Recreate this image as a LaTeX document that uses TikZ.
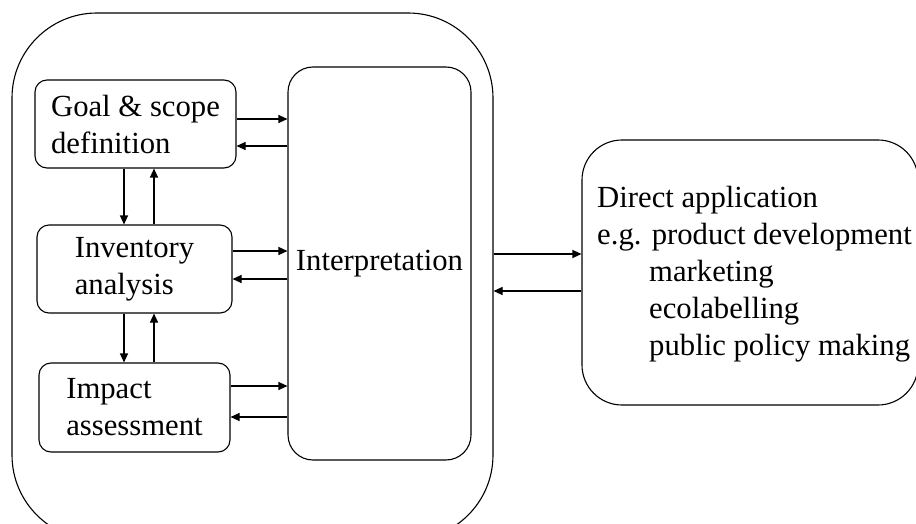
\documentclass[tikz,border=0pt]{standalone}
\usepackage{fontspec}
\setmainfont{Liberation Serif}
\usetikzlibrary{arrows.meta}
\tikzset{
  lbl/.style={font=\fontsize{30.7}{37}\selectfont},
  box/.style={draw, line width=1.1pt, inner sep=0pt, align=left, lbl},
  arr/.style={line width=1.1pt, -{Triangle[length=9pt,width=8pt]}},
}
\begin{document}
\begin{tikzpicture}[x=1pt,y=-1pt]
\useasboundingbox (0,0) rectangle (916,524);
\clip (0,0) rectangle (916,524);
\node[box, rounded corners=85pt, minimum width=481pt, minimum height=527pt] (outer) at (252.5,276.5) {};
\node[box, rounded corners=12pt, minimum width=201pt, minimum height=88pt] (goal) at (135.5,124) {Goal \& scope\\definition};
\node[box, rounded corners=12pt, minimum width=195pt, minimum height=88pt] (inv) at (134.5,269) {Inventory\\analysis};
\node[box, rounded corners=12pt, minimum width=191pt, minimum height=89pt] (imp) at (134.5,407.5) {Impact\\assessment};
\node[box, rounded corners=25pt, minimum width=183pt, minimum height=393pt] (interp) at (379.5,263.5) {Interpretation};
\node[box, rounded corners=40pt, minimum width=336pt, minimum height=265pt] (direct) at (750,272.5) {};
\node[lbl, align=left, anchor=north west, inner sep=0pt] (dtext) at (597,186)
  {Direct application\\e.g. product development\\\phantom{e.g.}\ marketing\\\phantom{e.g.}\ ecolabelling\\\phantom{e.g.}\ public policy making};
% goal <-> interpretation
\draw[arr] (goal.east |- 0,119) -- (interp.west |- 0,119);
\draw[arr] (interp.west |- 0,146) -- (goal.east |- 0,146);
% inventory <-> interpretation
\draw[arr] (inv.east |- 0,251) -- (interp.west |- 0,251);
\draw[arr] (interp.west |- 0,279) -- (inv.east |- 0,279);
% impact <-> interpretation
\draw[arr] (imp.east |- 0,386) -- (interp.west |- 0,386);
\draw[arr] (interp.west |- 0,417) -- (imp.east |- 0,417);
% vertical
\draw[arr] (goal.south -| 124,0) -- (inv.north -| 124,0);
\draw[arr] (inv.north -| 154,0) -- (goal.south -| 154,0);
\draw[arr] (inv.south -| 124,0) -- (imp.north -| 124,0);
\draw[arr] (imp.north -| 154,0) -- (inv.south -| 154,0);
% outer <-> direct
\draw[arr] (outer.east |- 0,254) -- (direct.west |- 0,254);
\draw[arr] (direct.west |- 0,291) -- (outer.east |- 0,291);
\end{tikzpicture}
\end{document}
